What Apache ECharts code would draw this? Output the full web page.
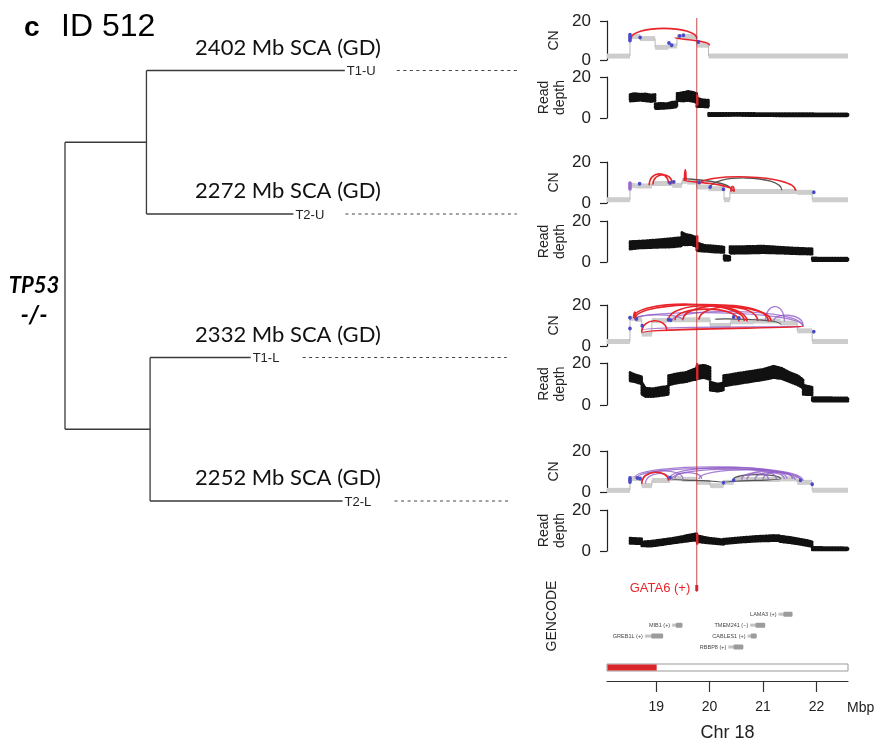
<!DOCTYPE html>
<html><head><meta charset="utf-8">
<script src="https://cdn.jsdelivr.net/npm/echarts@6/dist/echarts.min.js"></script>
<style>html,body{margin:0;padding:0;background:#fff}#c{width:876px;height:743px}</style>
</head><body><div id="c"></div>
<script>
// ================= DATA =================
// phylogeny
const leafNames = ['T1-U', 'T2-U', 'T1-L', 'T2-L'];
const scaLabels = ['2402 Mb SCA (GD)', '2272 Mb SCA (GD)', '2332 Mb SCA (GD)', '2252 Mb SCA (GD)'];
const leafDepth = [6.15, 5.02, 4.08, 6.1];
const cladeDepth = [1.79, 1.87];
const dottedEnd = [9.93, 9.93, 9.71, 9.78];

// genomic window (Mb) and GATA6 position
const xTicks = [19, 20, 21, 22];
const gata6Pos = 19.76;

// CN segments [start, end, cn]
const cnSeg1 = [[18.08,18.51,2],[18.51,18.70,12],[18.70,18.98,11],[18.98,19.23,6.5],[19.23,19.39,7.2],[19.39,19.76,12],[19.76,19.98,7.6],[19.98,22.59,2]];
const cnSeg2 = [[18.08,18.51,1.6],[18.51,18.61,8.6],[18.61,18.92,8.3],[18.92,19.30,9.5],[19.30,19.48,8.6],[19.48,19.58,10.6],[19.58,19.76,10.2],[19.76,19.98,7.8],[19.98,20.27,7.0],[20.27,20.38,1.6],[20.38,21.64,5.6],[21.64,21.92,5.2],[21.92,22.59,1.6]];
const cnSeg3 = [[18.08,18.51,2.2],[18.51,18.61,13.5],[18.61,18.73,13.0],[18.73,18.92,5.8],[18.92,19.20,12.4],[19.20,19.76,12.8],[19.76,20.01,12.8],[20.01,20.39,10],[20.39,20.83,11.8],[20.83,21.33,12.2],[21.33,21.64,11.2],[21.64,21.92,7.4],[21.92,22.59,2.2]];
const cnSeg4 = [[18.08,18.51,0.8],[18.51,18.73,6.6],[18.73,18.92,3.1],[18.92,19.26,5.6],[19.26,19.48,6.6],[19.48,19.76,6.2],[19.76,20.01,4.7],[20.01,20.26,3.1],[20.26,20.45,4.7],[20.45,21.33,6.1],[21.33,21.64,6.4],[21.64,21.92,4.7],[21.92,22.59,0.8]];

// SV arcs [start, end, cnStart, cnEnd, cnPeak, type(0 red,1 purple,2 grey)]
const arcs1 = [[18.53,19.76,11,11,16.2,0],[19.35,20.0,11.5,7.5,10.2,0]];
const arcs2 = [[18.87,19.23,8.6,9.5,14.2,0],[18.94,19.30,9.0,9.5,13.8,0],[19.53,19.56,11,11,16.3,0],[19.50,20.43,12.2,5.8,10.8,2],[20.01,21.35,7.2,6.2,12.2,2],[19.51,20.45,11.4,5.6,9.6,0],[19.82,21.61,9.2,6.0,12.7,0],[20.40,20.46,5.5,5.5,8.0,0]];
const arcs3 = [[20.10,21.33,13.0,10.5,13.0,2],[18.75,21.70,7.8,9.4,9.2,1],[18.60,21.75,13.0,9.5,16.2,1],[19.30,21.75,12.5,9.5,16.8,1],[21.05,21.40,12.5,12.0,19.2,1],[21.20,21.75,12.0,10.0,15.0,1],[18.60,19.50,13.0,12.5,15.2,1],
  [18.58,20.65,13.8,12.2,20.4,0],[18.60,21.15,13.2,12.2,20.2,0],[19.23,20.70,12.8,12.0,19.6,0],[19.50,21.10,12.8,12.0,19.8,0],[19.80,20.90,12.8,12.2,19.0,0],[19.35,20.55,12.6,12.0,18.0,0],[18.73,19.20,6.6,7.4,12.3,0],[18.58,18.62,13.5,13.5,16.6,0],[18.75,21.75,6.5,9.6,8.5,0]];
const arcs4 = [[19.28,20.26,6.5,4.5,5.6,2],[20.26,21.33,4.5,6.5,5.6,2],[20.45,21.33,6.2,6.4,8.5,2],
  [18.60,21.75,7.0,5.5,12.2,1],[18.65,21.70,7.0,5.5,11.5,1],[18.75,19.50,6.0,6.5,10.3,1],[19.25,21.45,6.5,6.5,12.0,1],[19.30,21.70,6.5,6.0,11.2,1],[19.80,21.60,6.3,6.0,10.8,1],[20.60,21.10,6.0,6.3,9.3,1],[20.70,21.25,6.0,6.3,10.0,1],[20.85,21.40,6.0,6.3,9.5,1],[21.00,21.55,6.0,6.3,9.8,1],[18.80,19.26,4.0,6.0,9.0,1],[19.35,19.85,6.5,6.3,9.5,1],
  [18.73,19.23,4.0,5.5,9.6,0]];

// breakpoint markers [pos, cnLow, cnHigh, type(0 blue,1 purple)]
const blue1 = [[18.51,9,14,0],[18.70,11,12,0],[19.24,8,9.5,0],[19.29,7,8.2,0],[19.44,11.5,13,0],[19.51,12,13.3,0],[19.79,8.6,9.8,0]];
const blue2 = [[18.51,6,10.6,1],[18.69,8.8,10,0],[19.26,9.2,10.4,0],[19.33,9.8,10.8,0],[19.80,9.5,10.5,0],[20.01,7.3,8.3,0],[20.26,6.2,7.2,0],[21.95,4.8,5.7,0]];
const blue3 = [[18.51,13,14.6,0],[18.51,7.8,9.2,0],[18.63,12.6,13.8,0],[18.74,9.4,10.4,0],[19.23,12.2,13.4,0],[19.27,12.0,13.2,0],[20.45,13.5,14.8,0],[20.55,13.0,14.2,0],[21.95,6.5,7.5,0]];
const blue4 = [[18.51,3.9,7.8,0],[18.65,6.3,7.3,0],[18.70,6.0,7.0,0],[19.26,6.5,7.5,0],[20.26,3.9,5.2,0],[20.45,5.2,6.2,0],[21.70,5.2,6.2,0],[21.92,3.3,4.3,0]];

// read depth bands: runs of [pos, low, high]
const rd1 = [
  [[18.51,8.2,11.5],[18.60,8.4,12],[18.70,8.6,11.6],[18.80,8.3,11.8],[18.90,8.0,11.3],[18.98,8.2,11.5]],
  [[18.98,4.5,7],[19.1,4.6,7.2],[19.2,4.8,7.0],[19.3,5.0,7.8],[19.39,5.5,8]],
  [[19.39,8.5,12],[19.5,8.2,12.5],[19.6,8.5,13],[19.7,8,12.5],[19.76,7.5,12]],
  [[19.76,5.5,9.8],[19.85,5.5,9],[19.98,5.3,8.7]],
  [[19.98,1.1,2.3],[20.5,1.2,2.3],[21.0,1.1,2.2],[21.5,1.0,2.2],[22.0,1.0,2.1],[22.59,1.0,2.1]]
];
const rd2 = [
  [[18.51,6.3,10],[18.7,6.8,10.2],[18.9,7,10.6],[19.1,7.2,11],[19.3,7.3,11.5],[19.48,7.8,12]],
  [[19.48,8.5,14.4],[19.55,8.3,13.5],[19.65,8.5,13],[19.76,7.5,12]],
  [[19.76,5.5,9.5],[19.9,5.2,8.2],[20.1,4.8,7.8],[20.27,4.6,7.4]],
  [[20.27,0.8,3.2],[20.38,0.8,2.7]],
  [[20.38,4.2,7.5],[20.7,4.3,7.6],[21.0,4.5,7.8],[21.3,4.3,7.3],[21.6,4.0,6.8],[21.92,3.8,6.5]],
  [[21.92,0.6,2.0],[22.59,0.6,1.9]]
];
const rd3 = [
  [[18.51,11.5,15.5],[18.6,11,14.5],[18.73,10,13.5]],
  [[18.73,5,11],[18.8,4,8],[18.95,4,7.8],[19.1,4.5,8.5],[19.23,5,9]],
  [[19.23,9.5,14],[19.4,10.5,15],[19.55,11,15.5],[19.7,12,17],[19.76,12,17.5]],
  [[19.76,12.5,18.5],[19.9,13,19],[20.01,12,18]],
  [[20.01,7,11],[20.15,6.5,10],[20.26,7,10.5]],
  [[20.26,9,14],[20.5,10,15],[20.75,11,16],[21.0,12,17],[21.2,13,18.5],[21.35,12.5,17.5],[21.5,11,15.5],[21.65,9.5,14],[21.75,8,12]],
  [[21.75,5,9.5],[21.92,4.8,8.5]],
  [[21.92,1.8,3.6],[22.59,1.8,3.4]]
];
const rd4 = [
  [[18.51,3.7,6.3],[18.73,3.5,6.0]],
  [[18.73,2.5,4.5],[18.9,2.3,4.8],[19.1,3,5.5],[19.3,3.8,6.2],[19.5,4.5,7.2],[19.65,5,8],[19.76,5.3,8.5]],
  [[19.76,4.5,7.5],[20.0,3.8,6.3],[20.26,3.2,5.5]],
  [[20.26,3.5,5.8],[20.6,4.3,6.6],[20.9,4.8,7.2],[21.2,5.0,7.6],[21.3,5.0,7.5]],
  [[21.3,4.6,7.4],[21.5,4.0,6.7],[21.7,3.2,5.8],[21.85,2.5,5],[21.92,2.2,4.5]],
  [[21.92,0.5,1.8],[22.59,0.5,1.6]]
];
// GATA6 read-depth highlight [start, end, low, high]
const rdRed1 = [19.745,19.775,6,11.5];
const rdRed2 = [19.745,19.775,6,13];
const rdRed3 = [19.745,19.775,12,20];
const rdRed4 = [19.745,19.775,3,8.5];

// GENCODE genes
const geneNames = ['GATA6 (+)', 'LAMA3 (+)', 'MIB1 (+)', 'TMEM241 (\u2212)', 'GREB1L (+)', 'CABLES1 (+)', 'RBBP8 (+)'];
const geneStart = [19.75, 21.29, 19.30, 20.76, 18.79, 20.71, 20.35];
const geneEnd   = [19.78, 21.55, 19.49, 21.04, 19.13, 20.88, 20.63];
const geneRow   = [0, 2.4, 3.4, 3.4, 4.4, 4.4, 5.4];
const geneHighlight = [1, 0, 0, 0, 0, 0, 0];

// chromosome band indicator [start, end]
const chrBand = [[18.08, 19.0]];

// ================= LAYOUT / RENDER =================
const X0 = 18.08, X1 = 22.59;
const cnTops = [21, 162, 305, 451], cnHs = [39, 41, 41, 41];
const rdTops = [77, 221, 363, 510], rdHs = [41, 41, 42, 41];
const panels = [
  {cn: cnSeg1, arcs: arcs1, blue: blue1, rd: rd1, red: rdRed1},
  {cn: cnSeg2, arcs: arcs2, blue: blue2, rd: rd2, red: rdRed2},
  {cn: cnSeg3, arcs: arcs3, blue: blue3, rd: rd3, red: rdRed3},
  {cn: cnSeg4, arcs: arcs4, blue: blue4, rd: rd4, red: rdRed4}
];
const SANS = '"Liberation Sans", Arial, sans-serif';
const TREEF = 'Lato, "Open Sans", sans-serif';

const grids = [], xAxes = [], yAxes = [], series = [];

function hiddenX(gi, min, max) {
  return {gridIndex: gi, type: 'value', min: min, max: max, show: false};
}

// tree grid (0)
grids.push({left: 65, top: 70.5, width: 455, height: 430.5});
xAxes.push(hiddenX(0, 0, 10));
yAxes.push({gridIndex: 0, type: 'value', min: 0, max: 3, inverse: true, show: false});

const TREE_LINE = {stroke: '#3a3a3a', lineWidth: 1.3};

series.push({
  type: 'custom', xAxisIndex: 0, yAxisIndex: 0, clip: false, silent: true,
  data: leafNames.map((n, i) => [leafDepth[i], i]),
  renderItem: function (params, api) {
    const i = params.dataIndex;
    const clade = Math.floor(i / 2);
    const a = api.coord([cladeDepth[clade], i]);
    const b = api.coord([api.value(0), i]);
    const d = api.coord([dottedEnd[i], i]);
    const l = api.coord([4.9, i]);
    return {type: 'group', children: [
      {type: 'line', shape: {x1: a[0], y1: a[1], x2: b[0], y2: b[1]}, style: TREE_LINE},
      {type: 'text', style: {text: leafNames[i], x: b[0] + 2, y: b[1] + 1, fill: '#222', font: '13px ' + SANS, textAlign: 'left', textVerticalAlign: 'middle'}},
      {type: 'line', shape: {x1: b[0] + 52, y1: b[1], x2: d[0], y2: d[1]}, style: {stroke: '#444', lineWidth: 1, lineDash: [3, 3.5]}},
      {type: 'text', style: {text: scaLabels[i], x: l[0], y: l[1] - 23, fill: '#111', font: '22px ' + TREEF, textAlign: 'center', textVerticalAlign: 'middle'}}
    ]};
  }
});
series.push({
  type: 'custom', xAxisIndex: 0, yAxisIndex: 0, clip: false, silent: true,
  data: cladeDepth.map((d, j) => [d, 2 * j + 0.5]),
  renderItem: function (params, api) {
    const j = params.dataIndex;
    const top = api.coord([api.value(0), 2 * j]);
    const bot = api.coord([api.value(0), 2 * j + 1]);
    const mid = api.coord([api.value(0), api.value(1)]);
    const root = api.coord([0, api.value(1)]);
    return {type: 'group', children: [
      {type: 'line', shape: {x1: top[0], y1: top[1], x2: bot[0], y2: bot[1]}, style: TREE_LINE},
      {type: 'line', shape: {x1: root[0], y1: root[1], x2: mid[0], y2: mid[1]}, style: TREE_LINE}
    ]};
  }
});
series.push({
  type: 'custom', xAxisIndex: 0, yAxisIndex: 0, clip: false, silent: true,
  data: [[0, 0.5, 2.5]],
  renderItem: function (params, api) {
    const a = api.coord([0, api.value(1)]), b = api.coord([0, api.value(2)]);
    return {type: 'line', shape: {x1: a[0], y1: a[1], x2: b[0], y2: b[1]}, style: TREE_LINE};
  }
});

const arcColors = ['#e8242a', 'rgba(145,95,200,0.8)', '#555555'];

function rSeg(params, api) {
  const a = api.coord([api.value(0), api.value(2)]);
  const b = api.coord([api.value(1), api.value(2)]);
  return {type: 'rect', shape: {x: a[0], y: a[1] - 2.5, width: Math.max(1, b[0] - a[0]), height: 5}, style: {fill: '#cdcdcd'}};
}
function rConn(params, api) {
  const a = api.coord([api.value(0), api.value(1)]);
  const b = api.coord([api.value(0), api.value(2)]);
  return {type: 'line', shape: {x1: a[0], y1: a[1], x2: b[0], y2: b[1]}, style: {stroke: '#b8b8b8', lineWidth: 1}};
}
function rArc(params, api) {
  const s = api.value(0), e = api.value(1), t = api.value(5);
  const p0 = api.coord([s, api.value(2)]), p1 = api.coord([e, api.value(3)]);
  const pm = api.coord([(s + e) / 2, api.value(4)]);
  const ycp = (8 * pm[1] - p0[1] - p1[1]) / 6;
  return {type: 'bezierCurve', shape: {x1: p0[0], y1: p0[1], x2: p1[0], y2: p1[1], cpx1: p0[0], cpy1: ycp, cpx2: p1[0], cpy2: ycp},
    style: {stroke: arcColors[t], lineWidth: t === 0 ? 1.6 : 1.3, fill: 'none'}};
}
function rBlue(params, api) {
  const a = api.coord([api.value(0), api.value(2)]);
  const b = api.coord([api.value(0), api.value(1)]);
  const h = Math.max(4, b[1] - a[1]);
  const cy = (a[1] + b[1]) / 2;
  return {type: 'rect', shape: {x: a[0] - 1.8, y: cy - h / 2, width: 3.6, height: h, r: 1.8},
    style: {fill: api.value(3) === 1 ? '#9a6ad0' : '#4a4ac8'}};
}
function makeRd(runs) {
  return function (params, api) {
    const run = runs[params.dataIndex];
    const up = run.map(p => api.coord([p[0], p[2]]));
    const lo = run.slice().reverse().map(p => api.coord([p[0], p[1]]));
    return {type: 'polygon', shape: {points: up.concat(lo)},
      style: {fill: '#111', stroke: '#111', lineWidth: 2.6, lineDash: [1.2, 1.6], lineCap: 'round', lineJoin: 'round'}};
  };
}
function rRed(params, api) {
  const a = api.coord([api.value(0), api.value(3)]);
  const b = api.coord([api.value(1), api.value(2)]);
  return {type: 'rect', shape: {x: a[0], y: a[1], width: Math.max(2.5, b[0] - a[0]), height: b[1] - a[1], r: 1}, style: {fill: '#e8242a'}};
}

function yAx(gi, name, gap) {
  return {gridIndex: gi, type: 'value', min: 0, max: 20, interval: 20,
    axisLine: {show: true, lineStyle: {color: '#222', width: 1.2}},
    axisTick: {show: true, length: 7, lineStyle: {color: '#222', width: 1.2}},
    axisLabel: {fontSize: 17, color: '#222', margin: 16, fontFamily: SANS},
    splitLine: {show: false},
    name: name, nameLocation: 'middle', nameGap: gap, nameRotate: 90,
    nameTextStyle: {fontSize: 14, color: '#222', fontFamily: SANS, lineHeight: 16}};
}

panels.forEach((p, k) => {
  // CN grid
  let gi = grids.length;
  grids.push({left: 607, right: 28, top: cnTops[k], height: cnHs[k]});
  xAxes.push(hiddenX(gi, X0, X1));
  yAxes.push(yAx(gi, 'CN', 45));
  const conn = p.cn.slice(1).map((s, i) => [s[0], p.cn[i][2], s[2]]);
  const arcsSorted = p.arcs.slice().sort((a, b) => b[5] - a[5]);
  series.push({type: 'custom', xAxisIndex: gi, yAxisIndex: gi, clip: false, silent: true, data: p.cn, renderItem: rSeg});
  series.push({type: 'custom', xAxisIndex: gi, yAxisIndex: gi, clip: false, silent: true, data: conn, renderItem: rConn});
  series.push({type: 'custom', xAxisIndex: gi, yAxisIndex: gi, clip: false, silent: true, data: arcsSorted, renderItem: rArc});
  series.push({type: 'custom', xAxisIndex: gi, yAxisIndex: gi, clip: false, silent: true, data: p.blue, renderItem: rBlue});
  // RD grid
  gi = grids.length;
  grids.push({left: 607, right: 28, top: rdTops[k], height: rdHs[k]});
  xAxes.push(hiddenX(gi, X0, X1));
  yAxes.push(yAx(gi, 'Read\ndepth', 38));
  series.push({type: 'custom', xAxisIndex: gi, yAxisIndex: gi, clip: false, silent: true,
    data: p.rd.map(r => [r[0][0], r[0][1]]), renderItem: makeRd(p.rd)});
  series.push({type: 'custom', xAxisIndex: gi, yAxisIndex: gi, clip: false, silent: true, data: [p.red], renderItem: rRed});
});

// GENCODE grid
let gG = grids.length;
grids.push({left: 607, right: 28, top: 588, height: 59});
xAxes.push(hiddenX(gG, X0, X1));
yAxes.push({gridIndex: gG, type: 'value', min: 0, max: 5.4, inverse: true, show: false});
series.push({
  type: 'custom', xAxisIndex: gG, yAxisIndex: gG, clip: false, silent: true,
  data: geneNames.map((n, i) => [geneStart[i], geneEnd[i], geneRow[i], geneHighlight[i]]),
  renderItem: function (params, api) {
    const i = params.dataIndex;
    const a = api.coord([api.value(0), api.value(2)]);
    const b = api.coord([api.value(1), api.value(2)]);
    if (api.value(3) === 1) {
      return {type: 'group', children: [
        {type: 'rect', shape: {x: a[0] - 1, y: a[1] - 3, width: Math.max(3, b[0] - a[0]), height: 6}, style: {fill: '#e8242a'}},
        {type: 'text', style: {text: geneNames[i], x: a[0] - 6, y: a[1], fill: '#e8242a', font: '13px ' + SANS, textAlign: 'right', textVerticalAlign: 'middle'}}
      ]};
    }
    const w = b[0] - a[0];
    return {type: 'group', children: [
      {type: 'rect', shape: {x: a[0], y: a[1] - 1.5, width: w, height: 3}, style: {fill: '#c4c4c4'}},
      {type: 'rect', shape: {x: a[0] + w * 0.35, y: a[1] - 2.5, width: w * 0.65, height: 5, r: 1}, style: {fill: '#9c9c9c'}},
      {type: 'text', style: {text: geneNames[i], x: a[0] - 2, y: a[1], fill: '#444', font: '5.5px ' + SANS, textAlign: 'right', textVerticalAlign: 'middle'}}
    ]};
  }
});

// chromosome axis grid
let gA = grids.length;
grids.push({left: 607, right: 28, top: 663, height: 18});
xAxes.push({gridIndex: gA, type: 'value', min: X0, max: X1, position: 'bottom',
  axisLine: {show: true, lineStyle: {color: '#333', width: 1.2}},
  axisTick: {show: true, customValues: xTicks, length: 11, lineStyle: {color: '#333', width: 1.2}},
  axisLabel: {show: true, customValues: xTicks, fontSize: 14, margin: 19, color: '#222', fontFamily: SANS},
  splitLine: {show: false},
  name: 'Chr 18', nameLocation: 'middle', nameGap: 43, nameTextStyle: {fontSize: 18, color: '#222', fontFamily: SANS}});
yAxes.push({gridIndex: gA, type: 'value', min: 0, max: 1, show: false});
series.push({
  type: 'custom', xAxisIndex: gA, yAxisIndex: gA, clip: false, silent: true,
  data: [[X0, X1, 0]].concat(chrBand.map(b => [b[0], b[1], 1])),
  renderItem: function (params, api) {
    const cs = params.coordSys;
    const a = api.coord([api.value(0), 0]), b = api.coord([api.value(1), 0]);
    if (api.value(2) === 1) {
      return {type: 'rect', shape: {x: a[0] + 0.5, y: cs.y + 1.5, width: b[0] - a[0], height: 6}, style: {fill: '#d8262a'}};
    }
    return {type: 'rect', shape: {x: a[0], y: cs.y + 1, width: b[0] - a[0], height: 7}, style: {fill: '#fff', stroke: '#999', lineWidth: 1}};
  }
});

// overlay grid for GATA6 vertical line
let gO = grids.length;
grids.push({left: 607, right: 28, top: 18, height: 574});
xAxes.push(hiddenX(gO, X0, X1));
yAxes.push({gridIndex: gO, type: 'value', min: 0, max: 1, show: false});
series.push({
  type: 'custom', xAxisIndex: gO, yAxisIndex: gO, clip: false, silent: true, z: 5,
  data: [[gata6Pos, 0, 1]],
  renderItem: function (params, api) {
    const a = api.coord([api.value(0), api.value(1)]), b = api.coord([api.value(0), api.value(2)]);
    return {type: 'line', shape: {x1: a[0], y1: a[1], x2: b[0], y2: b[1]}, style: {stroke: 'rgba(190,40,40,0.85)', lineWidth: 1}};
  }
});

const option = {
  animation: false,
  backgroundColor: '#fff',
  grid: grids, xAxis: xAxes, yAxis: yAxes, series: series,
  graphic: [
    {type: 'text', left: 24, top: 14, style: {text: 'c', font: 'bold 28px ' + SANS, fill: '#000'}},
    {type: 'text', left: 61, top: 11, style: {text: 'ID 512', font: '32px ' + SANS, fill: '#000'}},
    {type: 'text', x: 34, y: 286, style: {text: 'TP53', font: 'italic bold 22px ' + TREEF, fill: '#000', textAlign: 'center', textVerticalAlign: 'middle'}},
    {type: 'text', x: 34, y: 315, style: {text: '-/-', font: 'italic bold 24px ' + TREEF, fill: '#000', textAlign: 'center', textVerticalAlign: 'middle'}},
    {type: 'text', x: 552, y: 616, rotation: Math.PI / 2, style: {text: 'GENCODE', font: '14px ' + SANS, fill: '#222', textAlign: 'center', textVerticalAlign: 'middle'}},
    {type: 'text', x: 847, y: 708, style: {text: 'Mbp', font: '14px ' + SANS, fill: '#222', textAlign: 'left', textVerticalAlign: 'middle'}}
  ]
};
const chart = echarts.init(document.getElementById('c'), null, {renderer: 'canvas'});
chart.setOption(option);
</script>
</body></html>
